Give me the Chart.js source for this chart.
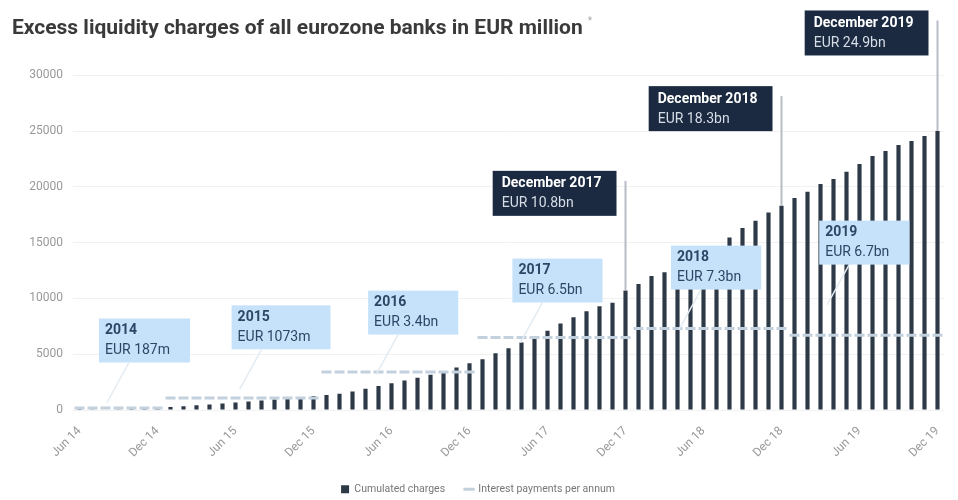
<!DOCTYPE html>
<html>
<head>
<meta charset="utf-8">
<script src="https://cdn.jsdelivr.net/npm/chart.js@4.4.1/dist/chart.umd.min.js"></script>
<style>
  html, body { margin: 0; padding: 0; background: #fff; }
  #wrap { width: 958px; height: 500px; }
</style>
</head>
<body>
<div id="wrap"><canvas id="myChart" width="958" height="500"></canvas></div>
<script>
// months Jun 2014 .. Dec 2019
const monthNames = ['Jan','Feb','Mar','Apr','May','Jun','Jul','Aug','Sep','Oct','Nov','Dec'];
const years = ['2014','2015','2016','2017','2018','2019'];

// cumulated charges in EUR million, one value per month from Jun 14
const cumulated = [
    10, 30, 50, 75, 100, 140, 190,                                           // 2014 Jun-Dec
    260, 330, 420, 500, 590, 680, 760, 850, 940, 1030, 1120, 1260,           // 2015
    1350, 1450, 1650, 1900, 2150, 2400, 2650, 2900, 3150, 3450, 3800, 4200,  // 2016
    4550, 5090, 5540, 6050, 6500, 7100, 7750, 8300, 8850, 9300, 9600, 10700, // 2017
    11300, 12000, 12350, 12750, 13250, 13800, 14400, 15450, 16300, 16950, 17700, 18300, // 2018
    19000, 19550, 20250, 20700, 21350, 22050, 22750, 23200, 23750, 24100, 24550, 25000  // 2019
];

// interest payments per annum, EUR million
const interestPerYear = [187, 1073, 3400, 6500, 7300, 6700];

const yearNoteTitles = ['2014', '2015', '2016', '2017', '2018', '2019'];
const yearNoteTexts = ['EUR 187m', 'EUR 1073m', 'EUR 3.4bn', 'EUR 6.5bn', 'EUR 7.3bn', 'EUR 6.7bn'];

const decNoteTitles = ['December 2017', 'December 2018', 'December 2019'];
const decNoteTexts = ['EUR 10.8bn', 'EUR 18.3bn', 'EUR 24.9bn'];
const decNoteMonths = ['Dec 17', 'Dec 18', 'Dec 19'];

const yTicks = [0, 5000, 10000, 15000, 20000, 25000, 30000];

// build category list and the monthly interest series
let labels = [];
let monthYear = [];
for(let y=0; y<years.length; y++){
    const start = y === 0 ? 5 : 0;
    for(let m=start; m<12; m++){
        labels.push(monthNames[m] + ' ' + years[y].substring(2));
        monthYear.push(y);
    }
}
const interest = monthYear.map(y => interestPerYear[y]);

// where the notes sit: [category index, value] of the top-left corner
const yearNoteAnchors = [[1.5, 8200], [11.7, 9380], [22.2, 10700], [33.3, 13570], [45.5, 14730], [56.9, 16970]];
const decNoteTops = [21430, 29020, 35800];

const notesPlugin = {
    id: 'notes',
    afterDatasetsDraw(chart){
        const ctx = chart.ctx;
        const xs = chart.scales.x;
        const ys = chart.scales.y;
        ctx.save();
        ctx.textBaseline = 'middle';

        // light yearly boxes
        for(let k=0; k<yearNoteTitles.length; k++){
            const left = xs.getPixelForValue(yearNoteAnchors[k][0]);
            const top = ys.getPixelForValue(yearNoteAnchors[k][1]);
            ctx.font = '14px Roboto';
            const w = ctx.measureText(yearNoteTexts[k]).width + 26;
            const h = 44;
            // leader line
            ctx.strokeStyle = '#e3ebf2';
            ctx.lineWidth = 1.5;
            ctx.beginPath();
            ctx.moveTo(left + 30, top + h);
            ctx.lineTo(left + 8, top + h + 40);
            ctx.stroke();
            ctx.fillStyle = '#c6e2fa';
            ctx.fillRect(left, top, w, h);
            ctx.fillStyle = '#2c4766';
            ctx.font = 'bold 14px Roboto';
            ctx.fillText(yearNoteTitles[k], left + 6, top + 12);
            ctx.font = '14px Roboto';
            ctx.fillText(yearNoteTexts[k], left + 6, top + 32);
        }

        // dark December boxes
        for(let k=0; k<decNoteTitles.length; k++){
            const idx = labels.indexOf(decNoteMonths[k]);
            const bx = xs.getPixelForValue(idx);
            const barTop = ys.getPixelForValue(cumulated[idx]);
            const top = ys.getPixelForValue(decNoteTops[k]);
            ctx.font = 'bold 14px Roboto';
            const w = ctx.measureText(decNoteTitles[k]).width + 24;
            const h = 45;
            const right = bx - 9;
            ctx.strokeStyle = '#b7bcc4';
            ctx.lineWidth = 2;
            ctx.beginPath();
            ctx.moveTo(bx, top + 10);
            ctx.lineTo(bx, barTop);
            ctx.stroke();
            ctx.fillStyle = '#1b2a40';
            ctx.fillRect(right - w, top, w, h);
            ctx.fillStyle = '#ffffff';
            ctx.fillText(decNoteTitles[k], right - w + 9, top + 13);
            ctx.font = '14px Roboto';
            ctx.fillStyle = '#d6dde7';
            ctx.fillText(decNoteTexts[k], right - w + 9, top + 33);
        }
        ctx.restore();
    },
    afterDraw(chart){
        // footnote mark after the title
        const ctx = chart.ctx;
        const tb = chart.titleBlock;
        ctx.save();
        ctx.font = 'bold 21px Roboto';
        const tw = ctx.measureText(chart.options.plugins.title.text).width;
        ctx.font = '10px Roboto';
        ctx.fillStyle = '#aaa';
        ctx.textBaseline = 'top';
        ctx.fillText('*', tb.left + tw + 5, tb.top + 16);
        ctx.restore();
    }
};

Chart.defaults.font.family = 'Roboto';

const myChart = new Chart(document.getElementById('myChart').getContext('2d'), {
    type: 'bar',
    data: {
        labels: labels,
        datasets: [{
            type: 'line',
            label: 'Interest payments per annum',
            data: interest,
            showLine: false,
            pointStyle: 'line',
            pointRadius: 5,
            pointHoverRadius: 5,
            borderWidth: 3,
            borderColor: '#c3d0dd',
            backgroundColor: '#c3d0dd',
            order: 0
        }, {
            label: 'Cumulated charges',
            data: cumulated,
            backgroundColor: '#2e3947',
            barPercentage: 0.32,
            categoryPercentage: 1.0,
            pointStyle: 'rect',
            order: 1
        }]
    },
    options: {
        responsive: false,
        animation: false,
        layout: {
            padding: { left: 12, right: 14, top: 0, bottom: 0 }
        },
        plugins: {
            title: {
                display: true,
                text: 'Excess liquidity charges of all eurozone banks in EUR million',
                align: 'start',
                color: '#3a3a3a',
                font: { size: 21, weight: 'bold' },
                padding: { top: 16, bottom: 34 }
            },
            legend: {
                position: 'bottom',
                reverse: true,
                maxHeight: 36,
                labels: {
                    usePointStyle: true,
                    boxWidth: 8,
                    boxHeight: 8,
                    color: '#777',
                    font: { size: 10.5 },
                    padding: 20
                }
            },
            tooltip: { enabled: false }
        },
        scales: {
            x: {
                afterFit: s => { s.height = 54; },
                grid: { display: false },
                border: { display: false },
                ticks: {
                    autoSkip: false,
                    minRotation: 45,
                    maxRotation: 45,
                    color: '#999',
                    font: { size: 12 },
                    padding: 6,
                    callback: (v, i) => i % 6 === 0 ? labels[i] : ''
                }
            },
            y: {
                min: 0,
                max: 30000,
                afterFit: s => { s.width = 61; },
                afterBuildTicks: s => { s.ticks = yTicks.map(v => ({ value: v })); },
                grid: { color: '#f1f1f1', drawTicks: false },
                border: { display: false },
                ticks: {
                    color: '#999',
                    font: { size: 12 },
                    padding: 10,
                    callback: v => String(v)
                }
            }
        }
    },
    plugins: [notesPlugin]
});
</script>
</body>
</html>
